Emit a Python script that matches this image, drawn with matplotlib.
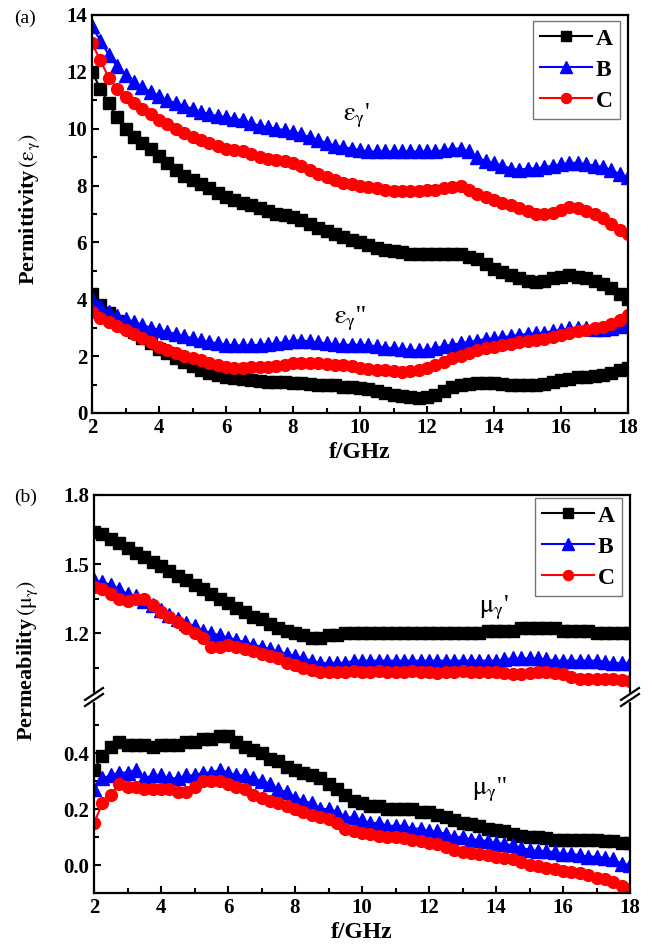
import numpy as np
import matplotlib
matplotlib.use('Agg')
import matplotlib.pyplot as plt

plt.rcParams['font.family'] = ['Liberation Serif', 'DejaVu Serif']
plt.rcParams['mathtext.fontset'] = 'stix'

# frequency sweep, GHz
freq = np.linspace(2, 18, 65)

# (a) permittivity, real part
eps1_A = [12.0, 11.4, 10.9, 10.4, 10.0, 9.7, 9.5, 9.3, 9.05, 8.8, 8.55, 8.35, 8.2, 8.05, 7.9, 7.75,
          7.6, 7.5, 7.4, 7.3, 7.2, 7.1, 7.0, 6.95, 6.9, 6.8, 6.65, 6.5, 6.4, 6.3, 6.2, 6.1,
          6.0, 5.9, 5.8, 5.75, 5.7, 5.65, 5.6, 5.6, 5.6, 5.6, 5.6, 5.6, 5.6, 5.5, 5.4, 5.25,
          5.05, 4.95, 4.85, 4.75, 4.65, 4.6, 4.65, 4.75, 4.8, 4.85, 4.8, 4.75, 4.65, 4.55, 4.4, 4.2, 4.0]
eps1_B = [13.6, 13.1, 12.6, 12.2, 11.9, 11.65, 11.45, 11.3, 11.15, 11.0, 10.9, 10.8, 10.7, 10.6, 10.5, 10.45,
          10.4, 10.35, 10.3, 10.2, 10.1, 10.05, 10.0, 9.95, 9.9, 9.8, 9.7, 9.6, 9.5, 9.4, 9.35, 9.3,
          9.25, 9.2, 9.2, 9.2, 9.2, 9.2, 9.2, 9.2, 9.2, 9.2, 9.25, 9.3, 9.3, 9.2, 9.0, 8.85,
          8.8, 8.7, 8.6, 8.55, 8.6, 8.6, 8.65, 8.7, 8.75, 8.8, 8.8, 8.75, 8.7, 8.65, 8.55, 8.4, 8.3]
eps1_C = [13.0, 12.4, 11.8, 11.4, 11.1, 10.9, 10.7, 10.5, 10.3, 10.15, 10.0, 9.85, 9.7, 9.6, 9.5, 9.4,
          9.3, 9.25, 9.2, 9.1, 9.0, 8.95, 8.9, 8.85, 8.8, 8.7, 8.55, 8.4, 8.3, 8.2, 8.1, 8.05,
          8.0, 7.95, 7.9, 7.85, 7.8, 7.8, 7.8, 7.8, 7.85, 7.85, 7.9, 7.95, 8.0, 7.85, 7.7, 7.6,
          7.5, 7.4, 7.3, 7.2, 7.1, 7.0, 7.0, 7.05, 7.15, 7.25, 7.2, 7.1, 7.0, 6.85, 6.65, 6.45, 6.3]

# (a) permittivity, imaginary part
eps2_A = [4.2, 3.8, 3.5, 3.25, 3.05, 2.85, 2.65, 2.45, 2.25, 2.1, 1.95, 1.8, 1.65, 1.52, 1.42, 1.33,
          1.27, 1.22, 1.18, 1.15, 1.12, 1.1, 1.1, 1.08, 1.06, 1.05, 1.02, 1.0, 1.0, 0.97, 0.93, 0.9,
          0.88, 0.85, 0.78, 0.7, 0.65, 0.6, 0.55, 0.52, 0.55, 0.65, 0.78, 0.9, 0.98, 1.02, 1.05, 1.05,
          1.05, 1.02, 1.0, 1.0, 1.0, 1.0, 1.02, 1.08, 1.15, 1.2, 1.25, 1.28, 1.3, 1.33, 1.4, 1.5, 1.6]
eps2_B = [4.0, 3.75, 3.55, 3.4, 3.3, 3.2, 3.1, 3.0, 2.92, 2.85, 2.78, 2.7, 2.63, 2.56, 2.5, 2.45,
          2.4, 2.38, 2.38, 2.38, 2.4, 2.42, 2.45, 2.5, 2.55, 2.55, 2.52, 2.48, 2.45, 2.42, 2.4, 2.4,
          2.4, 2.38, 2.35, 2.3, 2.28, 2.25, 2.22, 2.2, 2.22, 2.28, 2.35, 2.4, 2.45, 2.5, 2.55, 2.6,
          2.63, 2.67, 2.7, 2.75, 2.78, 2.8, 2.82, 2.88, 2.93, 2.98, 3.0, 2.98, 2.95, 2.95, 3.0, 3.05, 3.1]
eps2_C = [3.55, 3.35, 3.2, 3.05, 2.92, 2.78, 2.63, 2.48, 2.33, 2.2, 2.1, 2.0, 1.93, 1.85, 1.75, 1.68,
          1.62, 1.6, 1.6, 1.62, 1.62, 1.62, 1.65, 1.7, 1.75, 1.77, 1.77, 1.75, 1.72, 1.7, 1.68, 1.65,
          1.6, 1.56, 1.53, 1.5, 1.47, 1.45, 1.46, 1.5, 1.58, 1.68, 1.8, 1.92, 2.02, 2.12, 2.2, 2.27,
          2.33, 2.38, 2.43, 2.48, 2.52, 2.56, 2.6, 2.67, 2.75, 2.83, 2.88, 2.93, 2.98, 3.03, 3.12, 3.28, 3.45]

# (b) permeability, real part
mu1_A = [1.64, 1.63, 1.61, 1.59, 1.57, 1.55, 1.53, 1.51, 1.49, 1.47, 1.45, 1.43, 1.41, 1.39, 1.37, 1.35,
         1.33, 1.31, 1.29, 1.27, 1.26, 1.24, 1.22, 1.21, 1.20, 1.19, 1.18, 1.18, 1.19, 1.19, 1.20, 1.20,
         1.20, 1.20, 1.20, 1.20, 1.20, 1.20, 1.20, 1.20, 1.20, 1.20, 1.20, 1.20, 1.20, 1.20, 1.20, 1.21,
         1.21, 1.21, 1.21, 1.22, 1.22, 1.22, 1.22, 1.22, 1.21, 1.21, 1.21, 1.21, 1.20, 1.20, 1.20, 1.20, 1.20]
mu1_B = [1.43, 1.42, 1.41, 1.39, 1.37, 1.36, 1.34, 1.32, 1.30, 1.28, 1.26, 1.245, 1.23, 1.21, 1.20, 1.19,
         1.18, 1.17, 1.16, 1.15, 1.14, 1.13, 1.12, 1.11, 1.10, 1.09, 1.08, 1.07, 1.07, 1.07, 1.07, 1.08,
         1.08, 1.08, 1.08, 1.08, 1.08, 1.08, 1.08, 1.08, 1.08, 1.08, 1.08, 1.08, 1.08, 1.08, 1.08, 1.08,
         1.08, 1.085, 1.09, 1.09, 1.09, 1.09, 1.085, 1.08, 1.08, 1.08, 1.08, 1.08, 1.08, 1.075, 1.07, 1.07, 1.07]
mu1_C = [1.40, 1.39, 1.37, 1.35, 1.34, 1.35, 1.35, 1.32, 1.29, 1.27, 1.25, 1.22, 1.20, 1.18, 1.14, 1.14,
         1.15, 1.14, 1.13, 1.12, 1.11, 1.10, 1.09, 1.07, 1.06, 1.05, 1.04, 1.03, 1.03, 1.03, 1.03, 1.035,
         1.03, 1.03, 1.035, 1.03, 1.03, 1.03, 1.035, 1.03, 1.03, 1.025, 1.03, 1.03, 1.035, 1.03, 1.03, 1.03,
         1.03, 1.025, 1.02, 1.02, 1.025, 1.03, 1.03, 1.025, 1.02, 1.01, 1.0, 1.0, 1.0, 1.0, 1.0, 0.995, 0.99]

# (b) permeability, imaginary part
mu2_A = [0.34, 0.39, 0.42, 0.44, 0.43, 0.43, 0.43, 0.42, 0.43, 0.43, 0.43, 0.44, 0.44, 0.45, 0.45, 0.46,
         0.46, 0.44, 0.42, 0.41, 0.40, 0.38, 0.37, 0.35, 0.34, 0.33, 0.32, 0.31, 0.29, 0.27, 0.25, 0.23,
         0.22, 0.21, 0.21, 0.20, 0.20, 0.20, 0.20, 0.19, 0.19, 0.18, 0.17, 0.16, 0.15, 0.145, 0.14, 0.13,
         0.125, 0.12, 0.11, 0.105, 0.10, 0.10, 0.095, 0.09, 0.09, 0.09, 0.09, 0.09, 0.09, 0.085, 0.085, 0.08, 0.08]
mu2_B = [0.27, 0.31, 0.32, 0.33, 0.33, 0.34, 0.31, 0.32, 0.32, 0.31, 0.31, 0.32, 0.32, 0.33, 0.33, 0.34,
         0.33, 0.32, 0.32, 0.31, 0.30, 0.29, 0.27, 0.26, 0.24, 0.23, 0.22, 0.20, 0.20, 0.19, 0.17, 0.17,
         0.16, 0.15, 0.15, 0.14, 0.14, 0.14, 0.13, 0.13, 0.12, 0.12, 0.11, 0.10, 0.10, 0.09, 0.09, 0.085,
         0.08, 0.075, 0.07, 0.06, 0.055, 0.05, 0.05, 0.045, 0.04, 0.04, 0.035, 0.03, 0.03, 0.025, 0.02, 0.005, 0.0]
mu2_C = [0.15, 0.22, 0.25, 0.29, 0.28, 0.28, 0.27, 0.27, 0.27, 0.27, 0.26, 0.26, 0.28, 0.30, 0.30, 0.30,
         0.29, 0.28, 0.27, 0.25, 0.24, 0.23, 0.22, 0.21, 0.20, 0.19, 0.18, 0.17, 0.165, 0.15, 0.13, 0.12,
         0.115, 0.11, 0.105, 0.10, 0.10, 0.095, 0.09, 0.085, 0.08, 0.075, 0.065, 0.055, 0.048, 0.043, 0.038, 0.035,
         0.03, 0.025, 0.02, 0.01, 0.0, -0.005, -0.01, -0.015, -0.02, -0.025, -0.03, -0.035, -0.045, -0.05, -0.06, -0.075, -0.085]

labels = ['A', 'B', 'C']
colors = ['black', 'blue', 'red']
markers = ['s', '^', 'o']

W, H = 652, 947
fig = plt.figure(figsize=(W / 100, H / 100), dpi=100)


def box(l, t, r, b):
    return [l / W, 1 - b / H, (r - l) / W, (b - t) / H]


def style(ax):
    for s in ax.spines.values():
        s.set_linewidth(1.6)
    ax.tick_params(which='both', direction='in', width=1.5, labelsize=15, top=False, right=False)
    ax.tick_params(which='major', length=5)
    ax.tick_params(which='minor', length=3.5)
    for lab in ax.get_xticklabels() + ax.get_yticklabels():
        lab.set_fontweight('bold')


def draw(ax, series):
    lines = []
    for y, lab, c, m in zip(series, labels, colors, markers):
        ms = 9.5 if m == '^' else 8.5
        ln, = ax.plot(freq, y, color=c, marker=m, ms=ms, lw=1.5, label=lab)
        lines.append(ln)
    return lines


def legend(ax, handles):
    lg = ax.legend(handles, labels, loc='upper right', bbox_to_anchor=(0.985, 0.985), fontsize=17,
                   frameon=True, fancybox=False, edgecolor='#555555', handlelength=2.2,
                   handletextpad=0.15, borderpad=0.3, labelspacing=0.4, borderaxespad=0,
                   markerscale=0.85)
    lg.get_frame().set_linewidth(1.0)
    for t in lg.get_texts():
        t.set_fontweight('bold')


# ---------- (a) ----------
ax1 = fig.add_axes(box(92, 15, 628, 413))
h1 = draw(ax1, [eps1_A, eps1_B, eps1_C])
draw(ax1, [eps2_A, eps2_B, eps2_C])
ax1.set_xlim(2, 18)
ax1.set_ylim(0, 14)
ax1.set_xticks(range(2, 19, 2))
ax1.set_xticks(range(3, 18, 2), minor=True)
ax1.set_yticks(range(0, 15, 2))
ax1.set_yticks(range(1, 14, 2), minor=True)
style(ax1)
ax1.set_xlabel('f/GHz', fontsize=17, fontweight='bold', labelpad=3)
legend(ax1, h1)
ax1.text(9.9, 10.45, r"$\mathrm{\varepsilon_\gamma}$'", fontsize=19, ha='center', va='center')
ax1.text(9.7, 3.3, r"$\mathrm{\varepsilon_\gamma}$''", fontsize=19, ha='center', va='center')
fig.text(30 / W, 1 - 209 / H, r'Permittivity$\,(\mathrm{\varepsilon_\gamma})$', rotation=90,
         fontsize=16, fontweight='bold', ha='center', va='center')
fig.text(14 / W, 1 - 18 / H, '(a)', fontsize=14, ha='left', va='center')

# ---------- (b) ----------
ax_hi = fig.add_axes(box(94, 495, 630, 697))
ax_lo = fig.add_axes(box(94, 697, 630, 893), sharex=ax_hi)
h2 = draw(ax_hi, [mu1_A, mu1_B, mu1_C])
draw(ax_lo, [mu2_A, mu2_B, mu2_C])
ax_hi.set_xlim(2, 18)
ax_hi.set_ylim(0.922, 1.8)
ax_lo.set_ylim(-0.1, 0.6)
ax_hi.set_yticks([1.2, 1.5, 1.8])
ax_hi.set_yticks([1.05, 1.35, 1.65], minor=True)
ax_lo.set_yticks([0.0, 0.2, 0.4])
ax_lo.set_yticks([0.1, 0.3, 0.5], minor=True)
ax_hi.set_yticklabels(['1.2', '1.5', '1.8'])
ax_lo.set_yticklabels(['0.0', '0.2', '0.4'])
ax_lo.set_xticks(range(2, 19, 2))
ax_lo.set_xticks(range(3, 18, 2), minor=True)
ax_hi.spines['bottom'].set_visible(False)
ax_lo.spines['top'].set_visible(False)
style(ax_hi)
style(ax_lo)
ax_hi.tick_params(axis='x', which='both', bottom=False, labelbottom=False)
ax_lo.set_xlabel('f/GHz', fontsize=17, fontweight='bold', labelpad=3)
legend(ax_hi, h2)
ax_hi.text(13.95, 1.31, r"$\mathrm{\mu_\gamma}$'", fontsize=19, ha='center', va='center')
ax_lo.text(13.8, 0.27, r"$\mathrm{\mu_\gamma}$''", fontsize=19, ha='center', va='center')
fig.text(28 / W, 1 - 660 / H, r'Permeability$\,(\mathrm{\mu_\gamma})$', rotation=90,
         fontsize=16, fontweight='bold', ha='center', va='center')
fig.text(14 / W, 1 - 497 / H, '(b)', fontsize=14, ha='left', va='center')

# axis break marks
for xb in (94, 630):
    fig.add_artist(plt.Polygon([((xb - 3) / W, 1 - 701 / H), ((xb + 3) / W, 1 - 701 / H),
                                ((xb + 3) / W, 1 - 693 / H), ((xb - 3) / W, 1 - 693 / H)],
                               closed=True, color='white', zorder=3))
    for dy in (-3, 3):
        x0, y0 = (xb - 9) / W, 1 - (697 + dy + 6) / H
        x1, y1 = (xb + 9) / W, 1 - (697 + dy - 6) / H
        fig.add_artist(plt.Line2D([x0, x1], [y0, y1], color='black', lw=1.6, zorder=4))

fig.savefig('out.png', dpi=100)
